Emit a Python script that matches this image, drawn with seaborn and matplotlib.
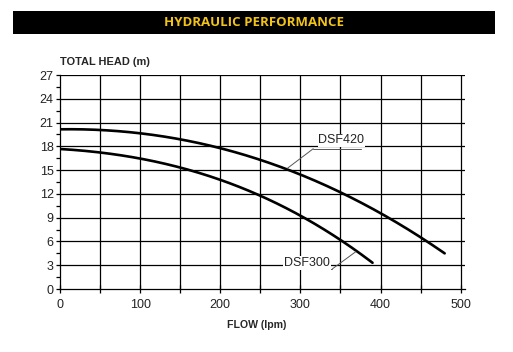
import numpy as np
import pandas as pd
import matplotlib
matplotlib.use("Agg")
import matplotlib.pyplot as plt
import seaborn as sns
from matplotlib.patches import Rectangle

# curve data (flow in lpm, head in m)
flow_420 = [0, 50, 100, 150, 200, 250, 300, 350, 400, 450, 480]
head_420 = [20.2, 20.0, 19.6, 18.9, 17.8, 16.3, 14.5, 12.2, 9.4, 6.6, 4.5]
flow_300 = [0, 50, 100, 150, 200, 250, 300, 350, 390]
head_300 = [17.75, 17.1, 16.4, 15.3, 14.0, 11.8, 9.1, 6.1, 3.4]

x_ticks = list(range(0, 501, 100))
y_ticks = list(range(0, 28, 3))

df = pd.concat([
    pd.DataFrame({"flow": flow_420, "head": head_420, "model": "DSF420"}),
    pd.DataFrame({"flow": flow_300, "head": head_300, "model": "DSF300"}),
])

sns.set_style("white")
plt.rcParams['font.family'] = ['Liberation Sans', 'DejaVu Sans']

fig = plt.figure(figsize=(5.13, 3.52), dpi=100)
W, H = 513, 352
# axes: x 0 at px 60, 500 at px 460.7 ; y 0 at px 289, 27 at px 75
xr = 505
ax_w = (460.7 - 60) * xr / 500
ax = fig.add_axes([60 / W, 1 - 289 / H, ax_w / W, (289 - 75) / H])

# smooth each curve with a cubic through the read points
for name, g in df.groupby("model", sort=False):
    xs = np.linspace(g["flow"].min(), g["flow"].max(), 200)
    coef = np.polyfit(g["flow"], g["head"], 3)
    sm = pd.DataFrame({"flow": xs, "head": np.polyval(coef, xs)})
    sns.lineplot(data=sm, x="flow", y="head", ax=ax, color="black",
                 linewidth=1.9, zorder=3)

ax.set_xlim(0, xr)
ax.set_ylim(0, 27)

# grid: every 50 in x, every 3 in y
for v in range(50, 501, 50):
    ax.plot([v, v], [0, 27], color="black", linewidth=0.9, zorder=2)
for v in range(3, 28, 3):
    ax.plot([0, xr], [v, v], color="black", linewidth=0.9, zorder=2)

ax.set_xticks(x_ticks)
ax.set_xticks(range(50, 501, 100), minor=True)
ax.set_yticks(y_ticks)
ax.set_yticks(np.arange(1.5, 27, 3), minor=True)
ax.tick_params(axis="y", which="both", direction="out", length=3, width=0.9,
               color="black", pad=1.5, labelsize=9, labelcolor="#222222", left=True)
ax.tick_params(axis="x", which="both", direction="inout", length=6, width=0.9,
               color="black", pad=4, labelsize=9, labelcolor="#222222", bottom=True)

for s in ["top", "right"]:
    ax.spines[s].set_visible(False)
for s in ["left", "bottom"]:
    ax.spines[s].set_color("black")
    ax.spines[s].set_linewidth(0.9)

ax.set_xlabel("")
ax.set_ylabel("")
fig.text(60 / W, 1 - 62 / H, "TOTAL HEAD (m)", fontsize=7.9, fontweight="bold",
         ha="left", va="center")
fig.text(257 / W, 1 - 325 / H, "FLOW (lpm)", fontsize=7.6, fontweight="bold",
         ha="center", va="center")

# curve labels with leader lines
ax.text(351, 18.75, "DSF420", fontsize=9, color="#222222",
        ha="center", va="center", zorder=5,
        bbox=dict(facecolor="white", edgecolor="none", pad=0.5))
ax.plot([316, 376], [17.7, 17.7], color="#555555", linewidth=0.7, zorder=4)
ax.plot([316, 284], [17.7, 15.25], color="#555555", linewidth=0.7, zorder=4)

ax.text(308, 3.25, "DSF300", fontsize=9, color="#222222",
        ha="center", va="center", zorder=5,
        bbox=dict(facecolor="white", edgecolor="none", pad=0.5))
ax.plot([281, 340], [2.55, 2.55], color="#555555", linewidth=0.7, zorder=4)
ax.plot([340, 369], [2.55, 4.7], color="#555555", linewidth=0.7, zorder=4)

# header bar
fig.patches.append(Rectangle((13 / W, 1 - 34 / H), (495 - 13) / W, 23 / H,
                             transform=fig.transFigure, facecolor="black",
                             edgecolor="none"))
fig.text(254 / W, 1 - 22 / H, "HYDRAULIC PERFORMANCE", fontsize=9.5,
         fontweight="bold", color="#F2C419", ha="center", va="center",
         family=["Open Sans", "DejaVu Sans"])

fig.savefig("out.png", dpi=100, facecolor="white")
